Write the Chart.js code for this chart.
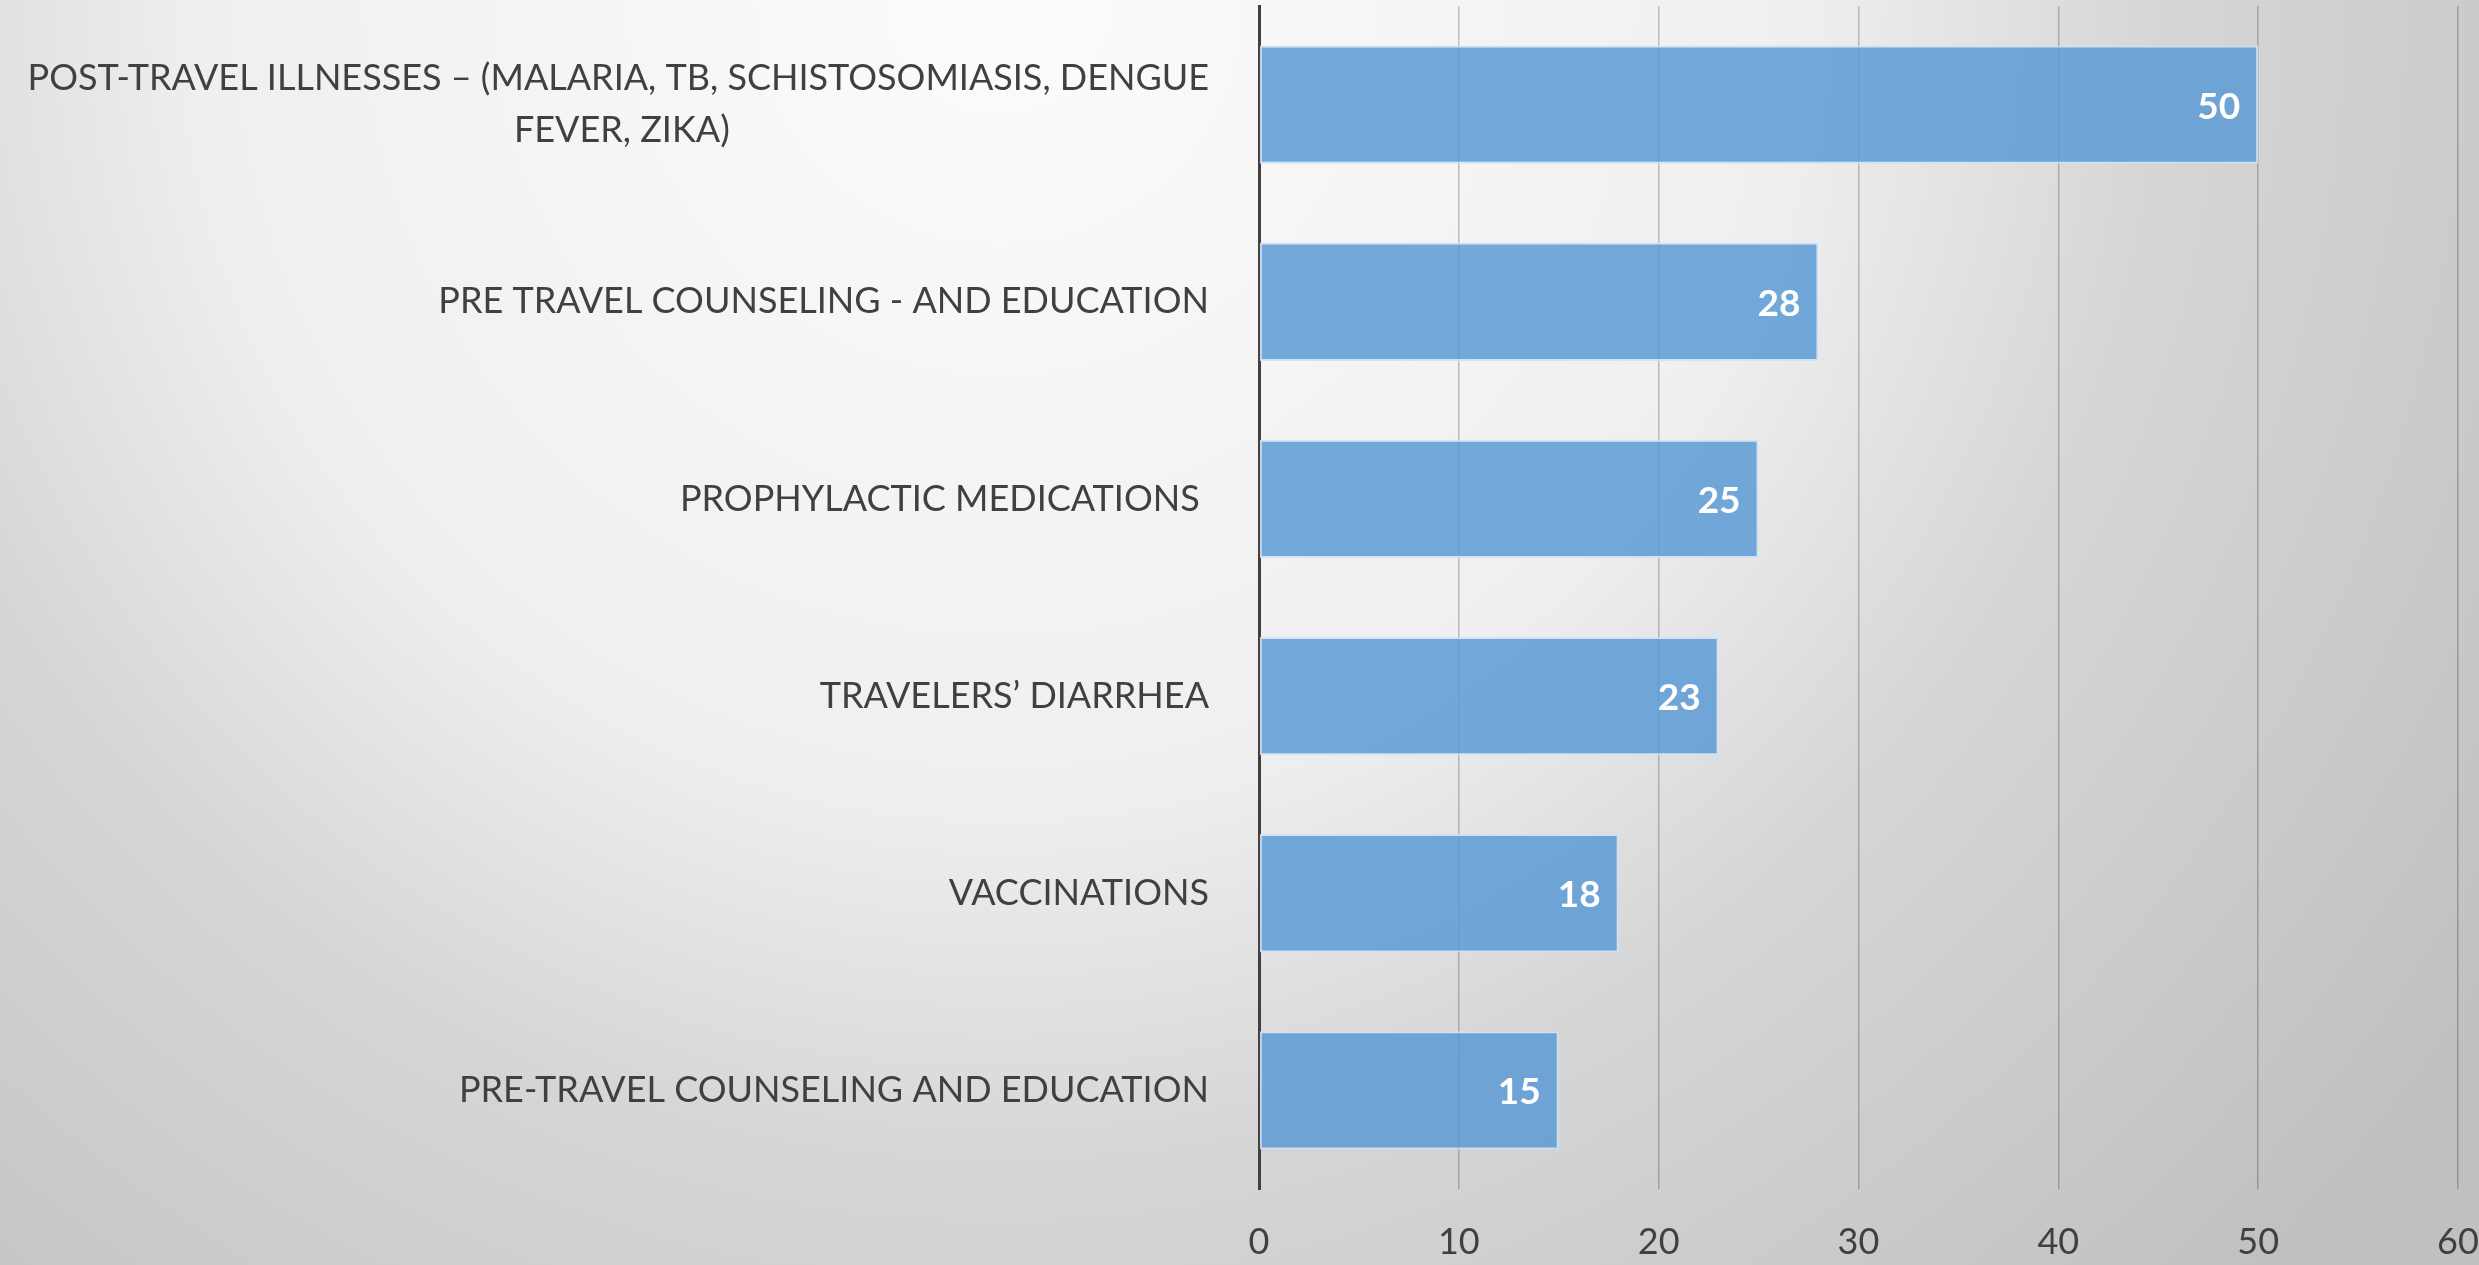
<!DOCTYPE html>
<html>
<head>
<meta charset="utf-8">
<script src="https://cdn.jsdelivr.net/npm/chart.js@4"></script>
<style>
  html, body {
    margin: 0;
    padding: 0;
    overflow: hidden;
  }
  body {
    width: 2479px;
    height: 1265px;
    background: radial-gradient(circle at 1000px 0px, #fcfcfc 0px, #efefef 800px, #d6d6d6 1160px, #c0c0c0 1800px);
  }
  #chart {
    display: block;
  }
</style>
</head>
<body>
<canvas id="chart" width="2479" height="1265"></canvas>
<script>
// chart data
const categories = [
  ['POST-TRAVEL ILLNESSES \u2013 (MALARIA, TB, SCHISTOSOMIASIS, DENGUE', 'FEVER, ZIKA)'],
  'PRE TRAVEL COUNSELING - AND EDUCATION',
  'PROPHYLACTIC MEDICATIONS ',
  'TRAVELERS\u2019 DIARRHEA',
  'VACCINATIONS',
  'PRE-TRAVEL COUNSELING AND EDUCATION'
];
const values = [50, 28, 25, 23, 18, 15];
const xTicks = [0, 10, 20, 30, 40, 50, 60];

const FONT = 'Lato, "Open Sans", sans-serif';
const TEXT_COLOR = '#404040';

// multi-line labels: pad shorter lines so they sit centred under the longest one
const measureCtx = document.createElement('canvas').getContext('2d');
measureCtx.font = '36px ' + FONT;
function centerLines(label) {
  if (!Array.isArray(label)) return label;
  const widths = label.map(l => measureCtx.measureText(l).width);
  const widest = Math.max(...widths);
  const sp = measureCtx.measureText('\u00a0').width;
  return label.map((l, i) => l + '\u00a0'.repeat(Math.round((widest - widths[i]) / 2 / sp)));
}
const yLabels = categories.map(centerLines);

// white value labels inside the bar ends
const valueLabels = {
  id: 'valueLabels',
  afterDatasetsDraw(chart) {
    const ctx = chart.ctx;
    const meta = chart.getDatasetMeta(0);
    ctx.save();
    ctx.font = 'bold 37px ' + FONT;
    ctx.fillStyle = '#ffffff';
    ctx.textAlign = 'right';
    ctx.textBaseline = 'middle';
    meta.data.forEach((bar, i) => {
      ctx.fillText(String(values[i]), bar.x - 18, bar.y + 2);
    });
    ctx.restore();
  }
};

new Chart(document.getElementById('chart'), {
  type: 'bar',
  data: {
    labels: yLabels,
    datasets: [{
      data: values,
      backgroundColor: 'rgba(91, 155, 213, 0.85)',
      borderColor: 'rgba(205, 225, 244, 0.9)',
      borderWidth: 2,
      borderSkipped: false,
      categoryPercentage: 1.0,
      barPercentage: 0.6
    }]
  },
  options: {
    indexAxis: 'y',
    responsive: false,
    animation: false,
    devicePixelRatio: 1,
    layout: { padding: { top: 6, left: 0, right: 0, bottom: 0 } },
    plugins: {
      legend: { display: false },
      tooltip: { enabled: false }
    },
    scales: {
      x: {
        min: 0,
        max: 60,
        afterBuildTicks: (scale) => {
          scale.ticks = xTicks.map(v => ({ value: v }));
        },
        afterFit: (scale) => {
          scale.height = 76;
          scale.paddingRight = 21;
        },
        grid: {
          color: 'rgba(0, 0, 0, 0.22)',
          lineWidth: 1.5,
          drawTicks: false
        },
        border: { display: false },
        ticks: {
          padding: 32,
          color: TEXT_COLOR,
          font: { family: FONT, size: 36, lineHeight: 1.2 }
        }
      },
      y: {
        afterFit: (scale) => {
          scale.width = 1259;
          scale.paddingTop = 0;
          scale.paddingBottom = 0;
        },
        grid: { display: false, drawTicks: false },
        border: { display: true, color: '#404040', width: 3 },
        ticks: {
          padding: 50,
          color: TEXT_COLOR,
          font: { family: FONT, size: 36, lineHeight: 1.45 }
        }
      }
    }
  },
  plugins: [valueLabels]
});
</script>
</body>
</html>
